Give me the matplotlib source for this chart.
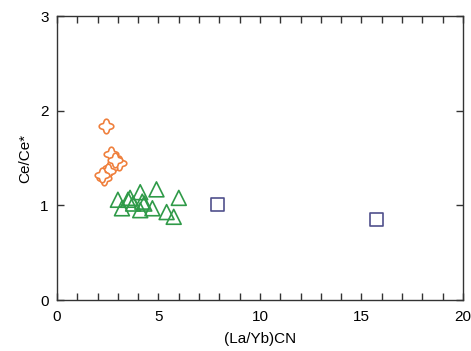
import numpy as np
import matplotlib
matplotlib.use("Agg")
from matplotlib import pyplot as plt
from matplotlib.path import Path

plt.rcParams['font.family'] = ['Liberation Sans', 'DejaVu Sans']

# orange rounded crosses
cross_x = [2.4, 2.65, 3.05, 2.6, 2.5, 2.3, 2.85, 2.2]
cross_y = [1.84, 1.54, 1.45, 1.40, 1.36, 1.29, 1.48, 1.32]
# green triangles
tri_x = [3.0, 3.2, 3.6, 4.1, 3.75, 4.2, 4.1, 4.7, 4.9, 5.4, 5.75, 6.0, 3.5, 4.3]
tri_y = [1.06, 0.97, 1.08, 1.14, 1.02, 1.04, 0.95, 0.97, 1.17, 0.93, 0.88, 1.08, 1.06, 1.02]
# purple squares
sq_x = [7.9, 15.75]
sq_y = [1.01, 0.85]

x_ticks = [0, 5, 10, 15, 20]
y_ticks = [0, 1, 2, 3]


def rounded_cross():
    t = np.linspace(0, 2 * np.pi, 97)
    r = 0.72 + 0.28 * np.cos(4 * t)
    r = np.sign(r) * np.abs(r) ** 0.6
    return Path(np.column_stack([r * np.cos(t), r * np.sin(t)]), closed=True)


fig = plt.figure(figsize=(4.71, 3.51), dpi=100)
ax = fig.add_axes([0.121, 0.145, 0.862, 0.809])

ax.scatter(cross_x, cross_y, marker=rounded_cross(), s=110, facecolors='white',
           edgecolors='#ef7f3c', linewidths=1.2, zorder=3)
ax.scatter(tri_x, tri_y, marker='^', s=115, facecolors='none',
           edgecolors='#2f9a48', linewidths=1.2, zorder=3)
ax.scatter(sq_x, sq_y, marker='s', s=85, facecolors='none',
           edgecolors='#50508c', linewidths=1.2, zorder=3)

ax.set_xlim(0, 20)
ax.set_ylim(0, 3)
ax.set_xticks(x_ticks)
ax.set_xticks(np.arange(0, 21, 1), minor=True)
ax.set_yticks(y_ticks)
ax.tick_params(axis='both', which='both', direction='in', top=True, right=True,
               length=5, width=1, color='#333333', labelsize=11, pad=6)
ax.tick_params(axis='x', which='major', pad=7)
for s in ax.spines.values():
    s.set_linewidth(1)
    s.set_color('#333333')

ax.set_xlabel('(La/Yb)CN', fontsize=11, labelpad=6)
ax.set_ylabel('Ce/Ce*', fontsize=11, labelpad=6)

fig.savefig('out.png', dpi=100)
